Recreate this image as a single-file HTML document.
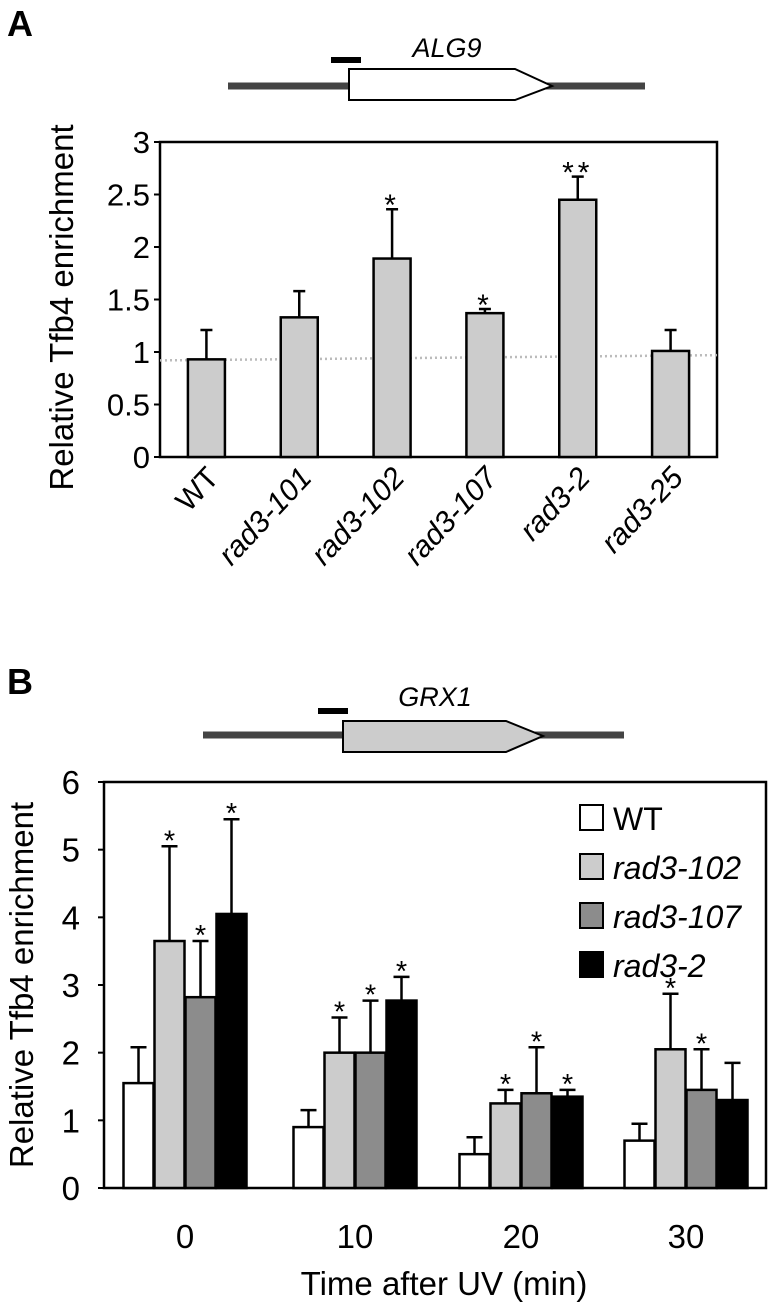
<!DOCTYPE html>
<html><head><meta charset="utf-8"><style>
html,body{margin:0;padding:0;background:#fff;}
svg{display:block;font-family:"Liberation Sans",Arial,sans-serif;}
</style></head><body>
<svg id="fig" width="770" height="1305" viewBox="0 0 770 1305">
  <text x="7" y="36" font-size="36" font-weight="bold">A</text>
  <g>
    <line x1="228" y1="86" x2="645" y2="86" stroke="#444" stroke-width="7"/>
    <polygon points="349,69 515,69 552,86 515,100 349,100" fill="#fff" stroke="#000" stroke-width="2"/>
    <rect x="331" y="57" width="30" height="6" fill="#000"/>
    <text x="447" y="57" font-size="27" font-style="italic" text-anchor="middle">ALG9</text>
  </g>
  <g id="chartA"></g>
  <text x="7" y="694" font-size="36" font-weight="bold">B</text>
  <g>
    <line x1="203" y1="735" x2="624" y2="735" stroke="#444" stroke-width="7"/>
    <polygon points="343,721 506,721 543,736 506,752 343,752" fill="#ccc" stroke="#000" stroke-width="2"/>
    <rect x="318" y="708" width="30" height="6" fill="#000"/>
    <text x="435" y="706" font-size="27" font-style="italic" text-anchor="middle">GRX1</text>
  </g>
  <g id="chartB"></g>
</svg>
<script>
// Panel A data
const catsA = ["WT","rad3-101","rad3-102","rad3-107","rad3-2","rad3-25"];
const valsA = [0.93,1.33,1.89,1.37,2.45,1.01];
const errA = [1.21,1.58,2.36,1.41,2.67,1.21];
const starsA = ["","","*","*","**",""];
const ticksA = [0,0.5,1,1.5,2,2.5,3];
const refLineA = [0.92,0.97];
// Panel B data
const timesB = ["0","10","20","30"];
const seriesNamesB = ["WT","rad3-102","rad3-107","rad3-2"];
const wtB = [1.55,0.9,0.5,0.7];
const r102B = [3.65,2.0,1.25,2.05];
const r107B = [2.82,2.0,1.4,1.45];
const r2B = [4.05,2.77,1.35,1.3];
const wtErrB = [2.08,1.15,0.75,0.95];
const r102ErrB = [5.05,2.52,1.45,2.87];
const r107ErrB = [3.65,2.77,2.08,2.05];
const r2ErrB = [5.45,3.12,1.45,1.85];
const wtStarB = [false,false,false,false];
const r102StarB = [true,true,true,true];
const r107StarB = [true,true,true,true];
const r2StarB = [true,true,true,false];
const ticksB = [0,1,2,3,4,5,6];

const NS="http://www.w3.org/2000/svg";
function mk(parent,tag,attrs,text){const e=document.createElementNS(NS,tag);for(const k in attrs)e.setAttribute(k,attrs[k]);if(text!==undefined)e.textContent=text;parent.appendChild(e);return e;}

// ---- Panel A ----
(function(){
  const g=document.getElementById('chartA');
  const L=160,R=717,T=142,B=457,ymax=3;
  const y=v=>B-(v/ymax)*(B-T);
  const step=(R-L)/catsA.length;
  const x=i=>L+step*(i+0.5);
  const bw=37;
  let fr=mk(g,'rect',{x:L,y:T,width:R-L,height:B-T,fill:'#fff',stroke:'#000','stroke-width':2.5});
  
  
  let rl=mk(g,'line',{x1:L,y1:y(refLineA[0]),x2:R,y2:y(refLineA[1]),stroke:'#bbb','stroke-width':2.5,'stroke-dasharray':'2,3'});
  
  
  ticksA.forEach(t=>{
    let tk=mk(g,'line',{x1:L-6,y1:y(t),x2:L,y2:y(t),stroke:'#000','stroke-width':2});
    
    
    let tl=mk(g,'text',{x:L-10,y:y(t)+11,'font-size':31,'text-anchor':'end'},String(t));
    
    
  });
  catsA.forEach((c,i)=>{
    const cx=x(i);
    let eb=mk(g,'path',{d:`M${cx},${y(valsA[i])} V${y(errA[i])} M${cx-6},${y(errA[i])} H${cx+6}`,stroke:'#000','stroke-width':2.5,fill:'none'});
    
    
    let b=mk(g,'rect',{x:cx-bw/2,y:y(valsA[i]),width:bw,height:B-y(valsA[i]),fill:'#ccc',stroke:'#000','stroke-width':2.5});
    
    
    if(starsA[i]){
      let s=mk(g,'text',{x:cx,y:y(errA[i])+6,'font-size':30,'text-anchor':'middle','letter-spacing':4},starsA[i]);
      
      
    }
    let lb=mk(g,'text',{x:cx+14,y:B+22,'font-size':30,'text-anchor':'end','font-style':i===0?'normal':'italic',transform:`rotate(-47 ${cx+14} ${B+22})`},c);
    
    
  });
  let yt=mk(g,'text',{x:0,y:0,'font-size':33,'text-anchor':'middle',transform:`translate(73 ${(T+B)/2+8}) rotate(-90)`},'Relative Tfb4 enrichment');
  
  
})();

// ---- Panel B ----
(function(){
  const g=document.getElementById('chartB');
  const L=104,R=766,T=782,B=1188,ymax=6;
  const y=v=>B-(v/ymax)*(B-T);
  const centers=[185,355,521,686];
  const bw=30;
  const vals=[wtB,r102B,r107B,r2B], errs=[wtErrB,r102ErrB,r107ErrB,r2ErrB], stars=[wtStarB,r102StarB,r107StarB,r2StarB];
  const fills=['#fff','#ccc','#8c8c8c','#000'];
  let fr=mk(g,'rect',{x:L,y:T,width:R-L,height:B-T,fill:'#fff',stroke:'#000','stroke-width':2.5});
  
  
  ticksB.forEach(t=>{
    let tk=mk(g,'line',{x1:L-6,y1:y(t),x2:L,y2:y(t),stroke:'#000','stroke-width':2});
    
    
    let tl=mk(g,'text',{x:L-24,y:y(t)+12,'font-size':33,'text-anchor':'end'},String(t));
    
    
  });
  timesB.forEach((tm,gi)=>{
    vals.forEach((ser,si)=>{
      const cx=centers[gi]+(si-1.5)*(bw+1);
      let eb=mk(g,'path',{d:`M${cx},${y(ser[gi])} V${y(errs[si][gi])} M${cx-8},${y(errs[si][gi])} H${cx+8}`,stroke:'#000','stroke-width':2.5,fill:'none'});
      
      
      let b=mk(g,'rect',{x:cx-bw/2,y:y(ser[gi]),width:bw,height:B-y(ser[gi]),fill:fills[si],stroke:'#000','stroke-width':2.5});
      
      
      if(stars[si][gi]){
        let s=mk(g,'text',{x:cx,y:y(errs[si][gi])+4,'font-size':29,'text-anchor':'middle'},'*');
        
        
      }
    });
    let xl=mk(g,'text',{x:centers[gi],y:B+60,'font-size':33,'text-anchor':'middle'},tm);
    
    
  });
  seriesNamesB.forEach((n,si)=>{
    const yy=805+si*49;
    let sw=mk(g,'rect',{x:580,y:yy,width:23,height:25,fill:fills[si],stroke:'#000','stroke-width':2});
    
    
    let lt=mk(g,'text',{x:613,y:yy+25,'font-size':32,'font-style':si===0?'normal':'italic'},n);
    
    
  });
  let xt=mk(g,'text',{x:444,y:1295,'font-size':33,'text-anchor':'middle'},'Time after UV (min)');
  
  
  let yt=mk(g,'text',{x:0,y:0,'font-size':33,'text-anchor':'middle',transform:`translate(33 ${(T+B)/2}) rotate(-90)`},'Relative Tfb4 enrichment');
  
  
})();
</script>
</body></html>
